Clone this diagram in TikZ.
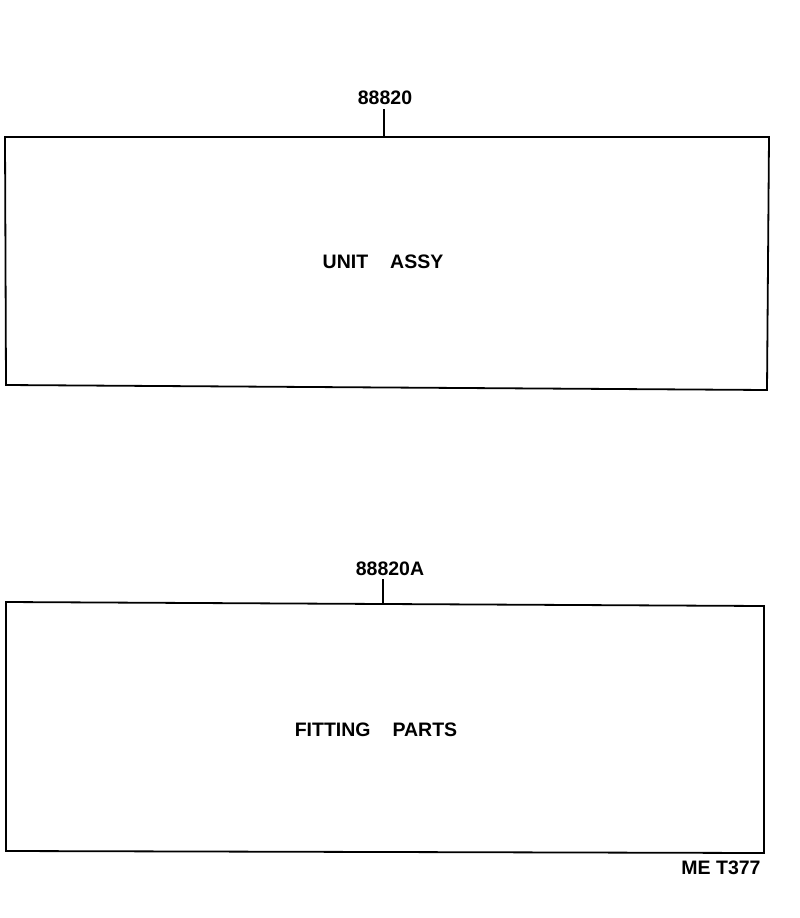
\documentclass[tikz,border=0pt]{standalone}
\usepackage{fontspec}
\setmainfont{Liberation Sans}
\begin{document}
\begin{tikzpicture}[x=1pt,y=-1pt,
  box/.style={line width=1.8pt},
  lbl/.style={font=\fontsize{19.5}{21}\selectfont\bfseries, inner sep=0pt},
  tick/.style={line width=1.5pt}]
\useasboundingbox (0,0) rectangle (800,918);
% box 1
\draw[box] (5,137) -- (769,137) -- (767,390) -- (6,385) -- cycle;
\node[lbl] (l1) at (385,98) {88820};
\coordinate (t1) at (384,137);
\draw[tick] (t1) -- ++(0,-28);
\node[lbl] (u1) at (383,262) {UNIT\hspace{22pt}ASSY};
% box 2
\draw[box] (6,602) -- (764,606) -- (764,853) -- (6,851) -- cycle;
\node[lbl] (l2) at (390,569) {88820A};
\coordinate (t2) at (383,603);
\draw[tick] (t2) -- ++(0,-24);
\node[lbl] (u2) at (376,730) {FITTING\hspace{22pt}PARTS};
\node[lbl] (ref) at (721,868) {ME T377};
\end{tikzpicture}
\end{document}
